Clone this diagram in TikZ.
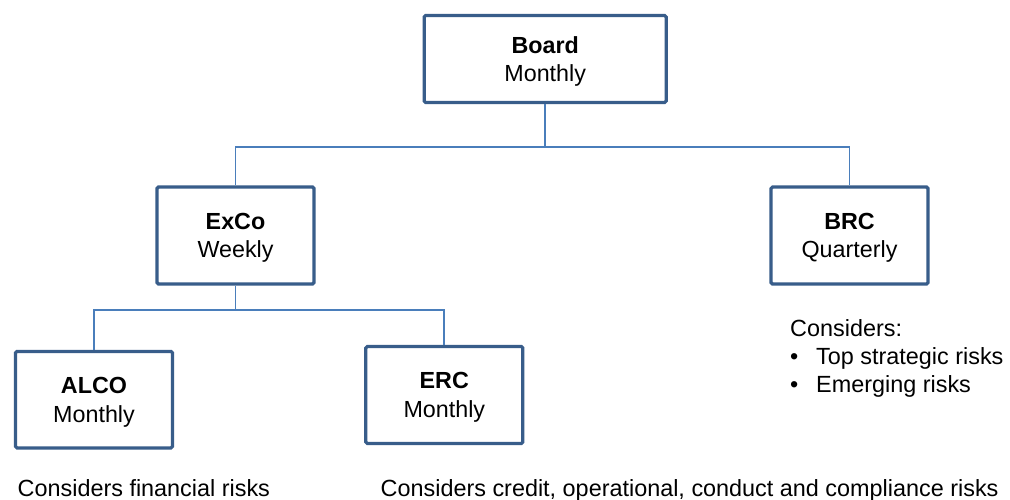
\documentclass[tikz,border=0pt]{standalone}
\usepackage{fontspec}
\setmainfont{Liberation Sans}
\definecolor{boxblue}{HTML}{385D8A}
\definecolor{linkblue}{HTML}{4A7EBB}
\newcommand\nodepthtxt[1]{\raisebox{0pt}[\height][0pt]{#1}}
\begin{document}
\begin{tikzpicture}[x=1pt,y=-1pt,
  box/.style={draw=boxblue, line width=3.2pt, rounded corners=1.5pt, align=center,
    inner sep=0pt, fill=white, font=\fontsize{23.3}{28.5}\selectfont},
  link/.style={draw=linkblue, line width=1.8pt},
  note/.style={inner sep=0pt, anchor=base west, align=left,
    font=\fontsize{23.4}{28}\selectfont}]
\useasboundingbox[fill=white] (0,0) rectangle (1010,499);
% boxes
\node[box, minimum width=242pt, minimum height=87pt] (board) at (545.2,59) {\textbf{Board}\\\nodepthtxt{Monthly}};
\node[box, minimum width=157pt, minimum height=97pt] (exco) at (235.5,235.5) {\textbf{ExCo}\\\nodepthtxt{Weekly}};
\node[box, minimum width=157pt, minimum height=97pt] (brc) at (849.5,235.5) {\textbf{BRC}\\\nodepthtxt{Quarterly}};
\node[box, minimum width=157pt, minimum height=96.5pt] (alco) at (94,399.7) {\textbf{ALCO}\\\nodepthtxt{Monthly}};
\node[box, minimum width=157pt, minimum height=97pt] (erc) at (444.3,395) {\textbf{ERC}\\\nodepthtxt{Monthly}};
% junctions
\coordinate (j1) at (545.2,147.3);
\coordinate (j2) at (235.5,310);
% connectors
\draw[link] (board.south) -- (j1);
\draw[link] (exco.north) |- (j1) -| (brc.north);
\draw[link] (exco.south) -- (j2);
\draw[link] (alco.north) |- (j2) -| (erc.north);
% notes
\node[note] (brcnote) at (790,392.7) {Considers:\\\makebox[26pt][l]{•}Top strategic risks\\\makebox[26pt][l]{•}Emerging risks};
\node[note] (alconote) at (17.5,496.5) {Considers financial risks};
\node[note] (ercnote) at (380.5,496.5) {Considers credit, operational, conduct and compliance risks};
\end{tikzpicture}
\end{document}
